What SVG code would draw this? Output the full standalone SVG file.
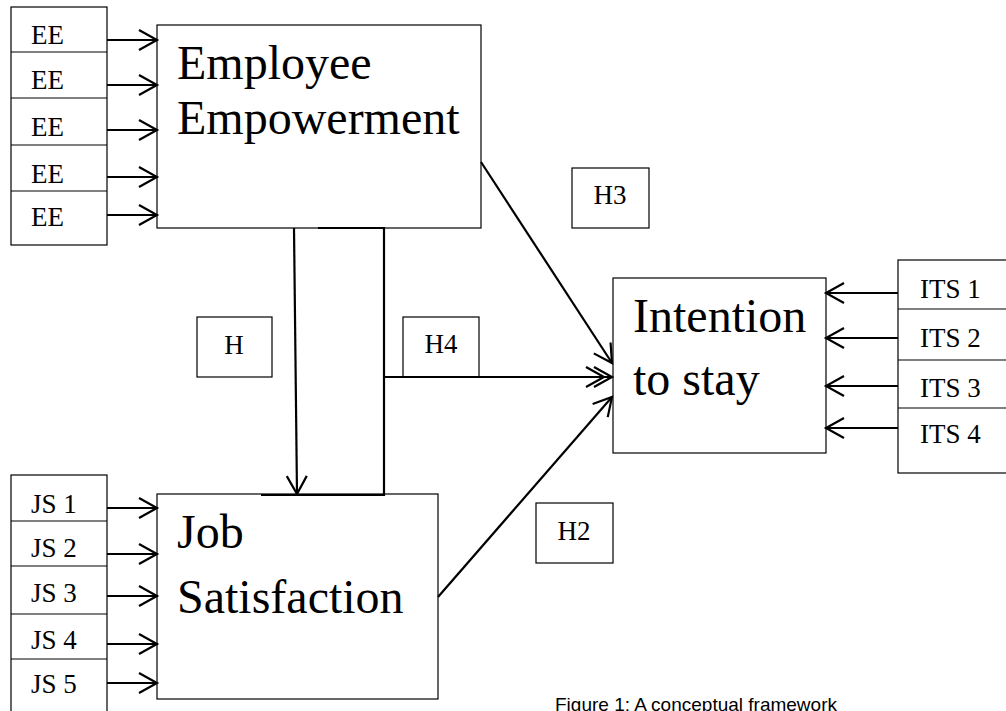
<svg xmlns="http://www.w3.org/2000/svg" width="1006" height="711" viewBox="0 0 1006 711">
<style>
.box{fill:#fff;stroke:#000;stroke-width:1.2}
.big{font-family:"Liberation Serif","Times New Roman",serif;font-size:48px;fill:#000}
.sm{font-family:"Liberation Serif","Times New Roman",serif;font-size:27px;fill:#000}
.hl{font-family:"Liberation Serif","Times New Roman",serif;font-size:27px;fill:#000;text-anchor:middle}
.cap{font-family:"Liberation Sans",Arial,sans-serif;font-size:19px;fill:#000}
.c{fill:none;stroke:#000;stroke-width:2.2}
.ca{fill:none;stroke:#000;stroke-width:2.2;marker-end:url(#a)}
.cd{fill:none;stroke:#000;stroke-width:2.2;marker-end:url(#d)}
</style>
<defs>
<marker id="a" markerUnits="userSpaceOnUse" markerWidth="30" markerHeight="30" viewBox="-24 -15 30 30" refX="0" refY="0" orient="auto" overflow="visible">
<path d="M-18,-10 L0,0 L-18,10" fill="none" stroke="#000" stroke-width="2.2"/>
</marker>
<marker id="d" markerUnits="userSpaceOnUse" markerWidth="36" markerHeight="30" viewBox="-30 -15 36 30" refX="0" refY="0" orient="auto" overflow="visible">
<path d="M-18,-10 L0,0 L-18,10 M-26,-10 L-8,0 L-26,10" fill="none" stroke="#000" stroke-width="2.2"/>
</marker>
</defs>
<rect width="1006" height="711" fill="#fff"/>

<g id="ee-items">
<rect class="box" x="11" y="7" width="96" height="238"/>
<line x1="11" y1="52" x2="107" y2="52" stroke="#000" stroke-width="1.2"/>
<line x1="11" y1="98" x2="107" y2="98" stroke="#000" stroke-width="1.2"/>
<line x1="11" y1="145" x2="107" y2="145" stroke="#000" stroke-width="1.2"/>
<line x1="11" y1="191" x2="107" y2="191" stroke="#000" stroke-width="1.2"/>
<text class="sm" x="31" y="44">EE</text>
<text class="sm" x="31" y="89">EE</text>
<text class="sm" x="31" y="136">EE</text>
<text class="sm" x="31" y="183">EE</text>
<text class="sm" x="31" y="226">EE</text>
</g>

<g id="js-items">
<rect class="box" x="11" y="475" width="96" height="260"/>
<line x1="11" y1="521" x2="107" y2="521" stroke="#000" stroke-width="1.2"/>
<line x1="11" y1="566" x2="107" y2="566" stroke="#000" stroke-width="1.2"/>
<line x1="11" y1="614" x2="107" y2="614" stroke="#000" stroke-width="1.2"/>
<line x1="11" y1="659" x2="107" y2="659" stroke="#000" stroke-width="1.2"/>
<text class="sm" x="31" y="513">JS 1</text>
<text class="sm" x="31" y="557">JS 2</text>
<text class="sm" x="31" y="602">JS 3</text>
<text class="sm" x="31" y="649">JS 4</text>
<text class="sm" x="31" y="693">JS 5</text>
</g>

<g id="its-items">
<rect class="box" x="898" y="260" width="130" height="213"/>
<line x1="898" y1="309" x2="1006" y2="309" stroke="#000" stroke-width="1.2"/>
<line x1="898" y1="360" x2="1006" y2="360" stroke="#000" stroke-width="1.2"/>
<line x1="898" y1="408" x2="1006" y2="408" stroke="#000" stroke-width="1.2"/>
<text class="sm" x="920" y="298">ITS 1</text>
<text class="sm" x="920" y="347">ITS 2</text>
<text class="sm" x="920" y="397">ITS 3</text>
<text class="sm" x="920" y="443">ITS 4</text>
</g>

<g id="employee-empowerment">
<rect class="box" x="157" y="25" width="324" height="203"/>
<text class="big" x="177" y="79">Employee</text>
<text class="big" x="177" y="134">Empowerment</text>
</g>

<g id="job-satisfaction">
<rect class="box" x="157" y="494" width="281" height="205"/>
<text class="big" x="177" y="548">Job</text>
<text class="big" x="177" y="613">Satisfaction</text>
</g>

<g id="intention-to-stay">
<rect class="box" x="613" y="278" width="213" height="175"/>
<text class="big" x="633" y="332">Intention</text>
<text class="big" x="633" y="395">to stay</text>
</g>

<g id="label-h">
<rect class="box" x="197" y="317" width="75" height="60"/>
<text class="hl" x="234" y="354">H</text>
</g>
<g id="label-h4">
<rect class="box" x="403" y="317" width="76" height="60"/>
<text class="hl" x="441" y="353">H4</text>
</g>
<g id="label-h3">
<rect class="box" x="572" y="168" width="77" height="60"/>
<text class="hl" x="610" y="204">H3</text>
</g>
<g id="label-h2">
<rect class="box" x="536" y="503" width="77" height="60"/>
<text class="hl" x="574" y="540">H2</text>
</g>

<g id="connectors">
<path class="ca" d="M107,40 H157"/>
<path class="ca" d="M107,85 H157"/>
<path class="ca" d="M107,130 H157"/>
<path class="ca" d="M107,177 H157"/>
<path class="ca" d="M107,215 H157"/>
<path class="ca" d="M107,508 H157"/>
<path class="ca" d="M107,554 H157"/>
<path class="ca" d="M107,596 H157"/>
<path class="ca" d="M107,644 H157"/>
<path class="ca" d="M107,683 H157"/>
<path class="ca" d="M898,293 H826"/>
<path class="ca" d="M898,338 H826"/>
<path class="ca" d="M898,386 H826"/>
<path class="ca" d="M898,428 H826"/>
<path class="ca" d="M481,162 L612,363"/>
<path class="ca" d="M438,597 L612,397"/>
<path class="ca" d="M294,228 L297,494"/>
<path class="c" d="M318,228 H384 V495 H261" stroke-width="2.6"/>
<path class="cd" d="M384,377 H612"/>
</g>

<text class="cap" x="555" y="711">Figure 1: A conceptual framework</text>
</svg>
